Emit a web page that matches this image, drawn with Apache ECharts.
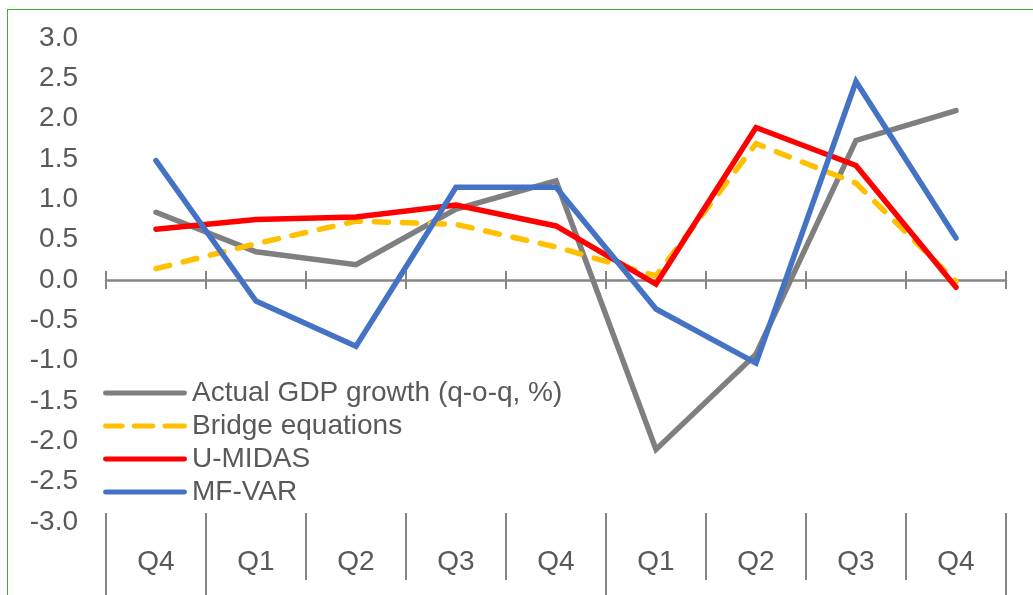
<!DOCTYPE html>
<html>
<head>
  <meta charset="UTF-8">
  <title>GDP nowcast comparison</title>
  <style>
    html, body { margin: 0; padding: 0; background: #fff; overflow: hidden; }
    #chart { position: absolute; left: 0; top: 0; width: 1033px; height: 595px; }
    #frame {
      position: absolute; left: 7px; top: 9px; width: 1100px; height: 700px;
      border: 1px solid #3dae3d; box-sizing: border-box; pointer-events: none; z-index: 5;
    }
  </style>
  <script src="https://cdn.jsdelivr.net/npm/echarts@6/dist/echarts.min.js"></script>
</head>
<body>
  <div id="chart"></div>
  <div id="frame"></div>
  <script>
    var categories = ['Q4', 'Q1', 'Q2', 'Q3', 'Q4', 'Q1', 'Q2', 'Q3', 'Q4'];
    var actual = [0.84, 0.35, 0.19, 0.88, 1.23, -2.10, -0.92, 1.73, 2.10];
    var bridge = [0.14, 0.45, 0.73, 0.69, 0.41, 0.05, 1.69, 1.20, -0.02];
    var umidas = [0.63, 0.75, 0.78, 0.93, 0.67, -0.05, 1.89, 1.42, -0.09];
    var mfvar = [1.48, -0.26, -0.82, 1.15, 1.15, -0.36, -1.03, 2.46, 0.52];
    // tick indices where a year starts (long separators)
    var yearBreaks = [0, 1, 5, 9];

    var font = "'Liberation Sans', Arial, sans-serif";
    var textColor = '#595959';
    var axisGray = '#868686';

    // legend icons: plain bar, and three dashes for the dashed series
    var solidIcon = 'path://M2,0h80a2,2 0 0 1 0,5h-80a2,2 0 0 1 0,-5z';
    var dashIcon = 'path://M2,0h17a2,2 0 0 1 0,5h-17a2,2 0 0 1 0,-5z' +
      'M31,0h19a2,2 0 0 1 0,5h-19a2,2 0 0 1 0,-5z' +
      'M62,0h20a2,2 0 0 1 0,5h-20a2,2 0 0 1 0,-5z';

    var myChart = echarts.init(document.getElementById('chart'));

    function line(name, data, color, dashed) {
      return {
        name: name,
        type: 'line',
        data: data,
        xAxisIndex: 0,
        symbol: 'none',
        lineStyle: {
          color: color,
          width: 5.5,
          type: dashed ? [14, 14] : 'solid',
          cap: 'round',
          join: 'miter'
        },
        itemStyle: { color: color }
      };
    }

    var option = {
      backgroundColor: '#fff',
      animation: false,
      grid: { left: 106, right: 27, top: 38, bottom: 73, containLabel: false },
      legend: {
        orient: 'vertical',
        left: 98,
        top: 374,
        itemWidth: 84,
        itemHeight: 5,
        itemGap: 5,
        textStyle: { color: textColor, fontSize: 28, lineHeight: 28, fontFamily: font },
        data: [
          { name: 'Actual GDP growth (q-o-q, %)', icon: solidIcon },
          { name: 'Bridge equations', icon: dashIcon },
          { name: 'U-MIDAS', icon: solidIcon },
          { name: 'MF-VAR', icon: solidIcon }
        ]
      },
      xAxis: [
        {
          // zero line, ticks pointing up
          type: 'category', data: categories, position: 'bottom',
          axisLine: { show: true, onZero: true, lineStyle: { color: axisGray, width: 2.5 } },
          axisTick: { show: true, inside: true, length: 9, lineStyle: { color: axisGray, width: 2 } },
          axisLabel: { show: false }
        },
        {
          // same ticks pointing down from the zero line
          type: 'category', data: categories, position: 'bottom', offset: -242,
          axisLine: { show: false, onZero: false },
          axisTick: { show: true, length: 9, lineStyle: { color: axisGray, width: 2 } },
          axisLabel: { show: false }
        },
        {
          type: 'category', data: categories, position: 'bottom', offset: -9,
          axisLine: { show: false, onZero: false },
          axisTick: { show: true, length: 67, lineStyle: { color: axisGray, width: 2 } },
          axisLabel: { color: textColor, fontSize: 28, fontFamily: font, margin: 35 }
        },
        {
          type: 'category', data: categories, position: 'bottom', offset: -9,
          axisLine: { show: false, onZero: false },
          axisTick: {
            show: true, length: 100,
            interval: function (index) { return yearBreaks.indexOf(index) >= 0; },
            lineStyle: { color: axisGray, width: 2 }
          },
          axisLabel: { show: false }
        }
      ],
      yAxis: {
        type: 'value', min: -3, max: 3, interval: 0.5,
        axisLine: { show: false },
        axisTick: { show: false },
        splitLine: { show: false },
        axisLabel: {
          color: textColor, fontSize: 28, fontFamily: font, margin: 28,
          formatter: function (v) { return v.toFixed(1); }
        }
      },
      series: [
        line('Actual GDP growth (q-o-q, %)', actual, '#7f7f7f', false),
        line('Bridge equations', bridge, '#ffc000', true),
        line('U-MIDAS', umidas, '#ff0000', false),
        line('MF-VAR', mfvar, '#4472c4', false)
      ]
    };

    myChart.setOption(option);
  </script>
</body>
</html>
